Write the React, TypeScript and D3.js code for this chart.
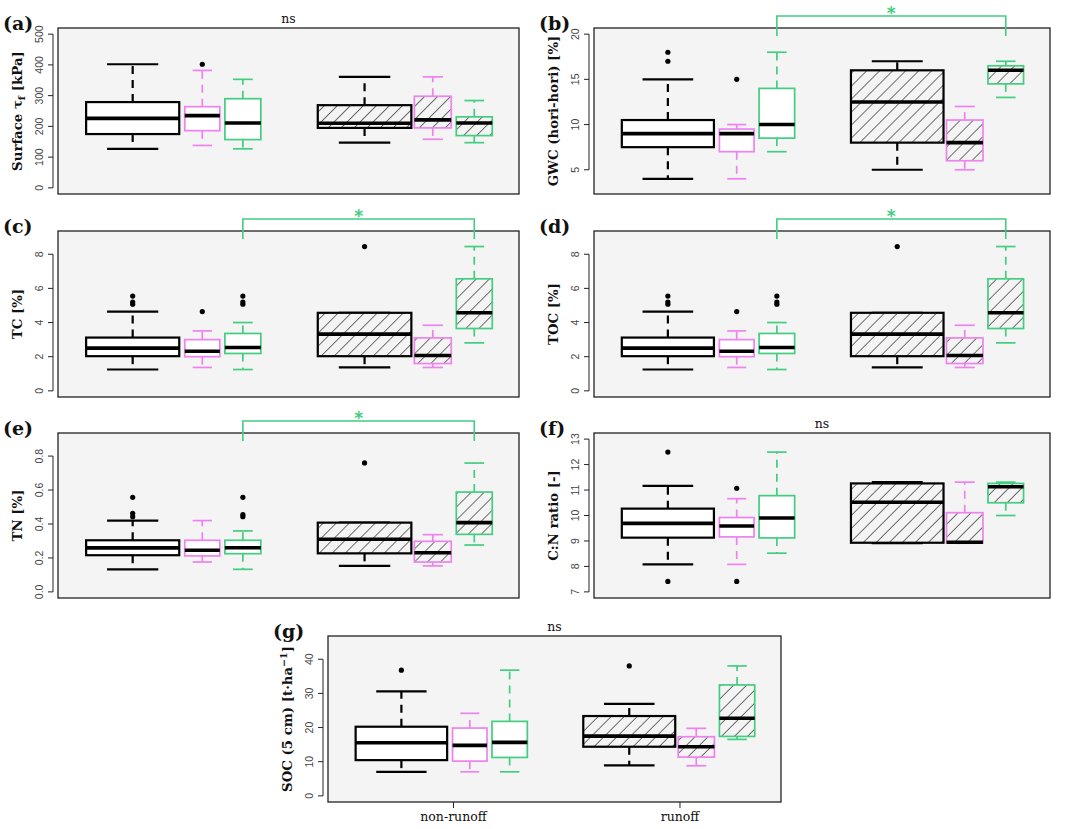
import React from 'react';
import * as d3 from 'd3';

type Stat = [number, number, number, number, number]; // lower whisker, q1, median, q3, upper whisker

const groupLabels = ['non-runoff', 'runoff'];
const boxColours = ['#000000', '#EE82EE', '#43CD80', '#000000', '#EE82EE', '#43CD80'];
const boxHatched = [false, false, false, true, true, true];

// (a) surface shear strength
const shearStats: Stat[] = [
    [127, 175, 226, 279, 402],
    [138, 186, 235, 264, 382],
    [127, 157, 211, 290, 353],
    [147, 195, 210, 269, 361],
    [158, 195, 221, 298, 361],
    [147, 170, 211, 231, 284],
];
const shearOutliers = [[], [402], [], [], [], []];

// (b) GWC
const gwcStats: Stat[] = [
    [4, 7.5, 9, 10.5, 15],
    [4, 7, 9, 9.5, 10],
    [7, 8.5, 10, 14, 18],
    [5, 8, 12.5, 16, 17],
    [5, 6, 8, 10.5, 12],
    [13, 14.5, 16, 16.5, 17],
];
const gwcOutliers = [[17, 18], [15], [], [], [], []];

// (c) TC
const tcStats: Stat[] = [
    [1.25, 2.03, 2.5, 3.12, 4.64],
    [1.37, 2.0, 2.32, 3.0, 3.51],
    [1.25, 2.19, 2.54, 3.36, 4.0],
    [1.37, 2.03, 3.32, 4.57, 4.57],
    [1.37, 1.6, 2.07, 3.1, 3.84],
    [2.81, 3.65, 4.57, 6.56, 8.45],
];
const tcOutliers = [[5.07, 5.2, 5.55], [4.64], [5.07, 5.2, 5.55], [8.45], [], []];

// (d) TOC
const tocStats: Stat[] = [
    [1.25, 2.03, 2.5, 3.12, 4.64],
    [1.37, 2.0, 2.32, 3.0, 3.51],
    [1.25, 2.19, 2.54, 3.36, 4.0],
    [1.37, 2.03, 3.32, 4.57, 4.57],
    [1.37, 1.6, 2.07, 3.1, 3.84],
    [2.81, 3.65, 4.57, 6.56, 8.45],
];
const tocOutliers = [[5.07, 5.2, 5.55], [4.64], [5.07, 5.2, 5.55], [8.45], [], []];

// (e) TN
const tnStats: Stat[] = [
    [0.133, 0.216, 0.259, 0.304, 0.42],
    [0.176, 0.212, 0.245, 0.304, 0.42],
    [0.133, 0.225, 0.26, 0.304, 0.359],
    [0.153, 0.227, 0.31, 0.408, 0.408],
    [0.153, 0.176, 0.231, 0.298, 0.337],
    [0.276, 0.339, 0.408, 0.588, 0.759],
];
const tnOutliers = [[0.443, 0.463, 0.557], [], [0.443, 0.455, 0.557], [0.76], [], []];

// (f) C:N ratio
const cnStats: Stat[] = [
    [8.08, 9.13, 9.69, 10.27, 11.16],
    [8.08, 9.16, 9.59, 9.92, 10.66],
    [8.52, 9.12, 9.9, 10.78, 12.49],
    [8.91, 8.93, 10.52, 11.26, 11.31],
    [8.91, 8.93, 8.95, 10.11, 11.31],
    [10.0, 10.5, 11.13, 11.26, 11.31],
];
const cnOutliers = [[12.49, 7.41], [11.07, 7.41], [], [], [], []];

// (g) SOC stock
const socStats: Stat[] = [
    [7.04, 10.46, 15.55, 20.24, 30.6],
    [7.04, 10.17, 14.77, 19.85, 24.16],
    [7.04, 11.25, 15.65, 21.8, 36.8],
    [8.9, 14.38, 17.5, 23.37, 26.9],
    [8.8, 11.34, 14.38, 17.31, 19.76],
    [16.53, 17.4, 22.7, 32.47, 38.04],
];
const socOutliers = [[36.8], [], [], [38.04], [], []];

// tick values
const shearTicks = [0, 100, 200, 300, 400, 500];
const gwcTicks = [5, 10, 15, 20];
const carbonTicks = [0, 2, 4, 6, 8];
const tnTicks = [0, 0.2, 0.4, 0.6, 0.8];
const cnTicks = [7, 8, 9, 10, 11, 12, 13];
const socTicks = [0, 10, 20, 30, 40];

// layout (x in a 0..10 position space)
const boxCentres = [1.62, 3.13, 4.01, 6.65, 8.13, 9.03];
const boxWidths = [2.02, 0.76, 0.78, 2.03, 0.8, 0.78];
const groupPos = [2.77, 7.77];

const serif = "'DejaVu Serif', 'Liberation Serif', serif";
const sans = "'Liberation Sans', Arial, sans-serif";

interface PanelDef {
    letter: string;
    left: number;
    top: number;
    width: number;
    height: number;
    domain: [number, number];
    ticks: number[];
    fmt: (v: number) => string;
    stats: Stat[];
    outliers: number[][];
    star: boolean;
    title: React.ReactNode;
    xAxis?: boolean;
}

const intFmt = d3.format('d');

const panels: PanelDef[] = [
    {
        letter: '(a)', left: 58, top: 28, width: 461, height: 166, domain: [0, 500], ticks: shearTicks, fmt: intFmt,
        stats: shearStats, outliers: shearOutliers, star: false,
        title: <><tspan>Surface τ</tspan><tspan dy={3} fontSize={10}>f</tspan><tspan dy={-3}> [kPa]</tspan></>,
    },
    {
        letter: '(b)', left: 594, top: 28, width: 456, height: 166, domain: [3, 20], ticks: gwcTicks, fmt: intFmt,
        stats: gwcStats, outliers: gwcOutliers, star: true,
        title: 'GWC (hori-hori) [%]',
    },
    {
        letter: '(c)', left: 58, top: 231, width: 461, height: 166, domain: [0, 9], ticks: carbonTicks, fmt: intFmt,
        stats: tcStats, outliers: tcOutliers, star: true,
        title: 'TC [%]',
    },
    {
        letter: '(d)', left: 594, top: 231, width: 456, height: 166, domain: [0, 9], ticks: carbonTicks, fmt: intFmt,
        stats: tocStats, outliers: tocOutliers, star: true,
        title: 'TOC [%]',
    },
    {
        letter: '(e)', left: 58, top: 433, width: 461, height: 165, domain: [0, 0.9], ticks: tnTicks, fmt: d3.format('.1f'),
        stats: tnStats, outliers: tnOutliers, star: true,
        title: 'TN [%]',
    },
    {
        letter: '(f)', left: 594, top: 433, width: 456, height: 165, domain: [7, 13], ticks: cnTicks, fmt: intFmt,
        stats: cnStats, outliers: cnOutliers, star: false,
        title: 'C:N ratio [-]',
    },
    {
        letter: '(g)', left: 328, top: 636, width: 453, height: 166, domain: [0, 45], ticks: socTicks, fmt: intFmt,
        stats: socStats, outliers: socOutliers, star: false, xAxis: true,
        title: <><tspan>SOC (5 cm) [t·ha</tspan><tspan dy={-5} fontSize={9.5}>−1</tspan><tspan dy={5}>]</tspan></>,
    },
];

const sigColour = '#43CD80';

const Panel: React.FC<{ p: PanelDef }> = ({ p }) => {
    const x = d3.scaleLinear().domain([0, 10]).range([p.left, p.left + p.width]);
    const pad = (p.domain[1] - p.domain[0]) * 0.04;
    const y = d3.scaleLinear().domain([p.domain[0] - pad, p.domain[1] + pad]).range([p.top + p.height, p.top]);
    const bottom = p.top + p.height;
    const axisX = p.left - 5;

    return (
        <g>
            <rect x={p.left} y={p.top} width={p.width} height={p.height} fill="#f4f4f4" />
            {p.stats.map((s, i) => {
                const c = boxColours[i];
                const cx = x(boxCentres[i]);
                const half = (x(boxWidths[i]) - x(0)) / 2;
                const cap = half * 0.55;
                const lw = c === '#000000' ? 2.2 : 1.7;
                const [lo, q1, med, q3, hi] = s;
                return (
                    <g key={i}>
                        <line x1={cx} x2={cx} y1={y(q3)} y2={y(hi)} stroke={c} strokeWidth={lw} strokeDasharray="8,6" />
                        <line x1={cx} x2={cx} y1={y(q1)} y2={y(lo)} stroke={c} strokeWidth={lw} strokeDasharray="8,6" />
                        <line x1={cx - cap} x2={cx + cap} y1={y(hi)} y2={y(hi)} stroke={c} strokeWidth={lw} />
                        <line x1={cx - cap} x2={cx + cap} y1={y(lo)} y2={y(lo)} stroke={c} strokeWidth={lw} />
                        <rect x={cx - half} y={y(q3)} width={half * 2} height={y(q1) - y(q3)}
                            fill={boxHatched[i] ? '#f4f4f4' : '#ffffff'} />
                        {boxHatched[i] && (
                            <rect x={cx - half} y={y(q3)} width={half * 2} height={y(q1) - y(q3)} fill="url(#hatch)" />
                        )}
                        <rect x={cx - half} y={y(q3)} width={half * 2} height={y(q1) - y(q3)}
                            fill="none" stroke={c} strokeWidth={lw} />
                        <line x1={cx - half} x2={cx + half} y1={y(med)} y2={y(med)} stroke="#000" strokeWidth={3.6} />
                        {p.outliers[i].map((o, j) => (
                            <circle key={j} cx={cx} cy={y(o)} r={2.6} fill="#000" />
                        ))}
                    </g>
                );
            })}
            <rect x={p.left} y={p.top} width={p.width} height={p.height} fill="none" stroke="#222" strokeWidth={1.3} />

            {/* y axis */}
            <line x1={axisX} x2={axisX} y1={y(p.ticks[0])} y2={y(p.ticks[p.ticks.length - 1])} stroke="#222" strokeWidth={1} />
            {p.ticks.map(t => (
                <g key={t}>
                    <line x1={axisX - 5} x2={axisX} y1={y(t)} y2={y(t)} stroke="#222" strokeWidth={1} />
                    <text transform={`translate(${p.left - 19},${y(t)}) rotate(-90)`} textAnchor="middle"
                        dominantBaseline="central" fontFamily={sans} fontSize={10.5} fill="#444">{p.fmt(t)}</text>
                </g>
            ))}
            <text transform={`translate(${p.left - 36},${(p.top + bottom) / 2}) rotate(-90)`} textAnchor="middle"
                fontFamily={serif} fontWeight="bold" fontSize={13.3} fill="#111">{p.title}</text>

            <text x={p.left - 55} y={p.top + 2} fontFamily={serif} fontWeight="bold" fontSize={19} fill="#111">{p.letter}</text>

            {p.star ? (
                <g>
                    <path d={`M${x(boxCentres[2])},${p.top + 8}V${p.top - 12}H${x(boxCentres[5])}V${p.top + 8}`}
                        fill="none" stroke={sigColour} strokeWidth={1.6} />
                    <text x={(x(boxCentres[2]) + x(boxCentres[5])) / 2} y={p.top - 9} textAnchor="middle"
                        fontFamily="'DejaVu Sans', sans-serif" fontWeight="bold" fontSize={17} fill={sigColour}>*</text>
                </g>
            ) : (
                <text x={p.left + p.width / 2} y={p.top - 5} textAnchor="middle" fontFamily={serif}
                    fontSize={12.5} fill="#111">ns</text>
            )}

            {p.xAxis && groupLabels.map((g, i) => (
                <g key={g}>
                    <line x1={x(groupPos[i])} x2={x(groupPos[i])} y1={bottom} y2={bottom + 6} stroke="#222" strokeWidth={1} />
                    <text x={x(groupPos[i])} y={bottom + 19} textAnchor="middle" fontFamily={serif}
                        fontSize={12.5} fill="#111">{g}</text>
                </g>
            ))}
        </g>
    );
};

const App: React.FC = () => (
    <svg width={1065} height={829} style={{ position: 'absolute', left: 0, top: 0, background: '#fff' }}>
        <defs>
            <pattern id="hatch" patternUnits="userSpaceOnUse" width={9.2} height={9.2} patternTransform="rotate(45)">
                <line x1={0} y1={0} x2={0} y2={9.2} stroke="#000" strokeWidth={1.1} />
            </pattern>
        </defs>
        {panels.map(p => <Panel key={p.letter} p={p} />)}
    </svg>
);

export default App;
